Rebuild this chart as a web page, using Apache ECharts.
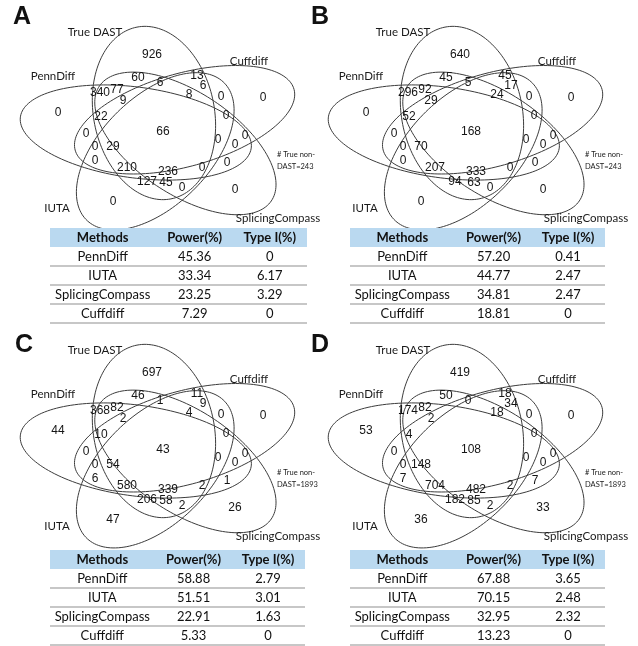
<!DOCTYPE html>
<html>
<head>
<meta charset="utf-8">
<script src="https://cdn.jsdelivr.net/npm/echarts@6/dist/echarts.min.js"></script>
<style>
html, body { margin: 0; padding: 0; background: #fff; }
#chart { width: 638px; height: 646px; }
</style>
</head>
<body>
<div id="chart"></div>
<script>
// ---- data ----
var panels = ['A', 'B', 'C', 'D'];
var setNames = ['True DAST', 'Cuffdiff', 'SplicingCompass', 'IUTA', 'PennDiff'];
var trueNonDast = [243, 243, 1893, 1893];

// region counts, same order as regionPos below
var countsA = [926, 60, 13, 6, 6, 340, 77, 9, 8, 0, 0, 0, 22, 0, 66, 0, 0, 0, 0, 0, 29, 0, 210, 236, 0, 0, 127, 45, 0, 0, 0];
var countsB = [640, 45, 45, 5, 17, 296, 92, 29, 24, 0, 0, 0, 52, 0, 168, 0, 0, 0, 0, 0, 70, 0, 207, 333, 0, 0, 94, 63, 0, 0, 0];
var countsC = [697, 46, 11, 1, 9, 368, 82, 2, 4, 0, 0, 44, 10, 0, 43, 0, 0, 0, 0, 0, 54, 6, 580, 339, 2, 1, 206, 58, 2, 26, 47];
var countsD = [419, 50, 18, 0, 34, 174, 82, 2, 18, 0, 0, 53, 4, 0, 108, 0, 0, 0, 0, 0, 148, 7, 704, 482, 2, 7, 182, 85, 2, 33, 36];

var tableHeader = ['Methods', 'Power(%)', 'Type I(%)'];
var methods = ['PennDiff', 'IUTA', 'SplicingCompass', 'Cuffdiff'];
var powerA = [45.36, 33.34, 23.25, 7.29];
var typeIA = [0, 6.17, 3.29, 0];
var powerB = [57.20, 44.77, 34.81, 18.81];
var typeIB = [0.41, 2.47, 2.47, 0];
var powerC = [58.88, 51.51, 22.91, 5.33];
var typeIC = [2.79, 3.01, 1.63, 0];
var powerD = [67.88, 70.15, 32.95, 13.23];
var typeID = [3.65, 2.48, 2.32, 0];

// ---- layout ----
var countsList = [countsA, countsB, countsC, countsD];
var powerList = [powerA, powerB, powerC, powerD];
var typeIList = [typeIA, typeIB, typeIC, typeID];

var vennOrigin = [[0, 0], [308, 0], [0, 318], [308, 318]];
var vennSize = [308, 318];
var tableBox = [[50, 228, 257], [350, 228, 255], [50, 550, 255], [350, 550, 255]];
var tableHeight = 95;
var colPos = [0.205, 0.563, 0.855];
var letterPos = [[13, 5], [311, 5], [15, 333], [311, 333]];

// venn template (panel px): label spots of the 31 regions
var regionPos = [
	[152, 55], [138, 78], [197, 76], [160, 83], [203, 86], [100, 93], [117, 90], [123, 101], [189, 95], [221, 97],
	[263, 98], [58, 113], [101, 117], [226, 116], [163, 132], [86, 134], [218, 140], [235, 145], [245, 136], [95, 147],
	[113, 147], [95, 161], [127, 168], [168, 172], [202, 168], [227, 163], [147, 182], [166, 183], [182, 188], [235, 190],
	[113, 202]
];
var setLabelPos = [[95, 32], [249, 61], [278, 218], [57, 208], [53, 76]];
var notePos = [277, 161];

// five congruent ellipses, rotated by 72 deg, then stretched in x
var vennCenter = [163, 132];
var stretchX = 1.35;
var ellipseOffset = [-6.7, 19];
var ellipseAxes = [87, 45];
var ellipseAngle0 = 96;

var numFont = 'Liberation Sans, Arial, sans-serif';
var txtFont = 'Lato, Open Sans, sans-serif';

function ellipsePoints(k) {
	var rot = -72 * k * Math.PI / 180;
	var cx = ellipseOffset[0] * Math.cos(rot) - ellipseOffset[1] * Math.sin(rot);
	var cy = ellipseOffset[0] * Math.sin(rot) + ellipseOffset[1] * Math.cos(rot);
	var beta = (ellipseAngle0 - 72 * k) * Math.PI / 180;
	var pts = [];
	for (var j = 0; j < 160; j++) {
		var t = j / 160 * 2 * Math.PI;
		var px = cx + ellipseAxes[0] * Math.cos(t) * Math.cos(beta) - ellipseAxes[1] * Math.sin(t) * Math.sin(beta);
		var py = cy + ellipseAxes[0] * Math.cos(t) * Math.sin(beta) + ellipseAxes[1] * Math.sin(t) * Math.cos(beta);
		pts.push([vennCenter[0] + stretchX * px, vennCenter[1] - py]);
	}
	return pts;
}

function fmt(v) {
	return v === 0 ? '0' : v.toFixed(2);
}

var grid = [], xAxis = [], yAxis = [], series = [], title = [];

panels.forEach(function (p, i) {
	var vg = i * 2, tg = i * 2 + 1;
	grid.push({ left: vennOrigin[i][0], top: vennOrigin[i][1], width: vennSize[0], height: vennSize[1] });
	grid.push({ left: tableBox[i][0], top: tableBox[i][1], width: tableBox[i][2], height: tableHeight });
	xAxis.push({ type: 'value', gridIndex: vg, min: 0, max: vennSize[0], show: false });
	yAxis.push({ type: 'value', gridIndex: vg, min: 0, max: vennSize[1], inverse: true, show: false });
	xAxis.push({ type: 'value', gridIndex: tg, min: 0, max: 1, show: false });
	yAxis.push({ type: 'category', gridIndex: tg, data: ['header'].concat(methods), inverse: true, show: false });

	title.push({
		text: p, left: letterPos[i][0], top: letterPos[i][1], padding: 0,
		textStyle: { fontSize: 25, fontWeight: 'bold', fontFamily: numFont, color: '#111' }
	});

	// ellipses
	series.push({
		type: 'custom', xAxisIndex: vg, yAxisIndex: vg, silent: true,
		data: setNames.map(function (n, k) { return { name: n, value: [k, 0] }; }),
		renderItem: function (params, api) {
			var pts = ellipsePoints(api.value(0)).map(function (q) { return api.coord(q); });
			return { type: 'polygon', shape: { points: pts }, style: { fill: 'none', stroke: '#3c3c3c', lineWidth: 1 } };
		}
	});

	// region counts
	var counts = countsList[i];
	series.push({
		type: 'custom', xAxisIndex: vg, yAxisIndex: vg, silent: true,
		data: regionPos.map(function (q, j) { return [q[0], q[1], counts[j]]; }),
		renderItem: function (params, api) {
			var c = api.coord([api.value(0), api.value(1)]);
			return { type: 'text', x: c[0], y: c[1], style: {
				text: String(api.value(2)), fill: '#151515', fontSize: 12, fontFamily: numFont,
				align: 'center', verticalAlign: 'middle' } };
		}
	});

	// set names
	series.push({
		type: 'custom', xAxisIndex: vg, yAxisIndex: vg, silent: true,
		data: setLabelPos.map(function (q) { return [q[0], q[1]]; }),
		renderItem: function (params, api) {
			var c = api.coord([api.value(0), api.value(1)]);
			return { type: 'text', x: c[0], y: c[1], style: {
				text: setNames[params.dataIndex], fill: '#1a1a1a', fontSize: 11.5, fontFamily: txtFont,
				align: 'center', verticalAlign: 'middle' } };
		}
	});

	// non-DAST note
	series.push({
		type: 'custom', xAxisIndex: vg, yAxisIndex: vg, silent: true,
		data: [[notePos[0], notePos[1], trueNonDast[i]]],
		renderItem: function (params, api) {
			var c = api.coord([api.value(0), api.value(1)]);
			return { type: 'text', x: c[0], y: c[1], style: {
				text: '# True non-\nDAST=' + api.value(2), fill: '#222', fontSize: 7.5, lineHeight: 12,
				fontFamily: txtFont, align: 'left', verticalAlign: 'middle' } };
		}
	});

	// table rows (header band + row rules)
	series.push({
		type: 'custom', xAxisIndex: tg, yAxisIndex: tg, silent: true,
		data: [0, 1, 2, 3, 4].map(function (r) { return [0, r]; }),
		renderItem: function (params, api) {
			var cs = params.coordSys;
			var c = api.coord([0, api.value(1)]);
			var h = api.size([0, 1])[1];
			var top = c[1] - h / 2;
			if (api.value(1) === 0) {
				return { type: 'rect', shape: { x: cs.x, y: top, width: cs.width, height: h }, style: { fill: '#bad9f0' } };
			}
			return { type: 'line', shape: { x1: cs.x, y1: top + h, x2: cs.x + cs.width, y2: top + h },
				style: { stroke: '#b4b4b4', lineWidth: 1.5 } };
		}
	});

	// table cells
	var cells = [tableHeader];
	methods.forEach(function (m, r) {
		cells.push([m, fmt(powerList[i][r]), fmt(typeIList[i][r])]);
	});
	var cellData = [], cellText = [];
	cells.forEach(function (row, r) {
		row.forEach(function (txt, c) {
			cellData.push([colPos[c], r]);
			cellText.push(txt);
		});
	});
	series.push({
		type: 'custom', xAxisIndex: tg, yAxisIndex: tg, silent: true,
		data: cellData,
		renderItem: function (params, api) {
			var c = api.coord([api.value(0), api.value(1)]);
			var head = api.value(1) === 0;
			return { type: 'text', x: c[0], y: c[1], style: {
				text: cellText[params.dataIndex], fill: '#111', fontSize: 13,
				fontWeight: head ? 'bold' : 'normal', fontFamily: txtFont,
				align: 'center', verticalAlign: 'middle' } };
		}
	});
});

var chart = echarts.init(document.getElementById('chart'));
chart.setOption({
	backgroundColor: '#fff',
	animation: false,
	title: title,
	grid: grid,
	xAxis: xAxis,
	yAxis: yAxis,
	series: series
});
</script>
</body>
</html>
